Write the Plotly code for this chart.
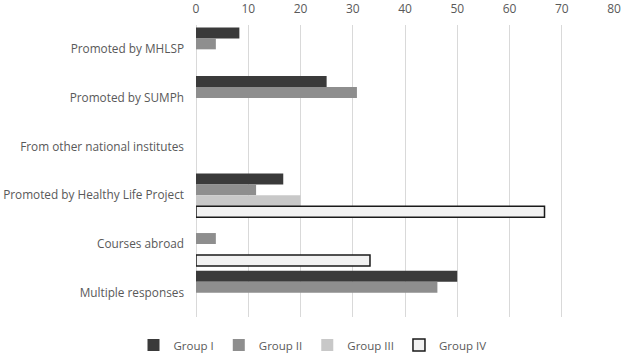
import plotly.graph_objects as go

categories = ["Promoted by MHLSP", "Promoted by SUMPh", "From other national institutes",
              "Promoted by Healthy Life Project", "Courses abroad", "Multiple responses"]
group_names = ["Group I", "Group II", "Group III", "Group IV"]
group_i = [8.3, 25.0, 0, 16.7, 0, 50.0]
group_ii = [3.8, 30.8, 0, 11.5, 3.8, 46.2]
group_iii = [0, 0, 0, 20.0, 0, 0]
group_iv = [0, 0, 0, 66.7, 33.3, 0]
x_ticks = [0, 10, 20, 30, 40, 50, 60, 70, 80]

series = [group_i, group_ii, group_iii, group_iv]
fills = ["#3a3a3a", "#8e8e8e", "#c8c8c8", "#f2f2f2"]
lines = [None, None, None, "#1a1a1a"]

fig = go.Figure()
for name, vals, fc, lc in zip(group_names, series, fills, lines):
    marker = dict(color=fc)
    if lc:
        marker["line"] = dict(color=lc, width=1.5)
    else:
        marker["line"] = dict(width=0)
    fig.add_trace(go.Bar(
        name=name, y=categories, x=[v if v != 0 else None for v in vals],
        orientation="h", marker=marker,
    ))

font_family = "Open Sans, sans-serif"
fig.update_layout(
    width=625, height=355,
    margin=dict(l=196, r=11, t=25, b=38),
    paper_bgcolor="white", plot_bgcolor="white",
    barmode="group", bargap=0.1, bargroupgap=0,
    font=dict(family=font_family, size=11, color="#595959"),
    legend=dict(orientation="h", xref="container", yref="container",
                x=0.5, xanchor="center", y=0.028, yanchor="middle",
                font=dict(size=11.5, color="#595959"), traceorder="normal",
                itemwidth=30),
    xaxis=dict(side="top", range=[0, 80], tickvals=x_ticks, automargin=False,
               showgrid=True, gridcolor="#d9d9d9", gridwidth=1,
               zeroline=True, zerolinecolor="#d9d9d9", zerolinewidth=1,
               showline=False, ticks="", ticklabelstandoff=9,
               tickfont=dict(size=12, color="#595959")),
    yaxis=dict(autorange="reversed", showgrid=False, ticks="", showline=False,
               automargin=False, ticklabelstandoff=11,
               tickfont=dict(size=11.8, color="#595959")),
)

fig.write_html("out.html")
